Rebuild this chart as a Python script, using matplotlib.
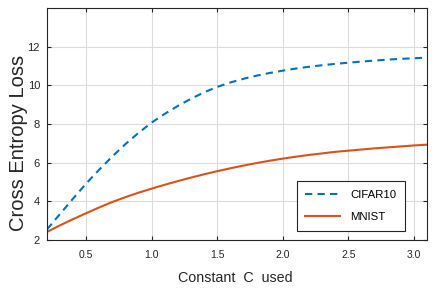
import matplotlib
matplotlib.use("Agg")
import matplotlib.pyplot as plt

c_vals = [0.2, 0.3, 0.4, 0.5, 0.6, 0.7, 0.8, 0.9, 1.0, 1.1, 1.2, 1.3, 1.4, 1.5, 1.6, 1.7, 1.8, 1.9, 2.0,
          2.1, 2.2, 2.3, 2.4, 2.5, 2.6, 2.7, 2.8, 2.9, 3.0, 3.1]
cifar10 = [2.55, 3.35, 4.15, 4.93, 5.65, 6.33, 6.97, 7.55, 8.08, 8.53, 8.94, 9.31, 9.64, 9.92, 10.15, 10.34,
           10.50, 10.64, 10.76, 10.87, 10.96, 11.04, 11.11, 11.17, 11.23, 11.28, 11.33, 11.37, 11.40, 11.43]
mnist = [2.42, 2.76, 3.08, 3.39, 3.69, 3.97, 4.22, 4.45, 4.66, 4.86, 5.05, 5.23, 5.40, 5.56, 5.71, 5.85,
         5.98, 6.10, 6.21, 6.31, 6.40, 6.48, 6.56, 6.62, 6.68, 6.74, 6.79, 6.84, 6.89, 6.93]

xticks = [0.5, 1.0, 1.5, 2.0, 2.5, 3.0]
yticks = [2, 4, 6, 8, 10, 12]

plt.rcParams['font.family'] = ['Liberation Sans', 'DejaVu Sans']

fig = plt.figure(figsize=(4.36, 2.88), dpi=100)
ax = fig.add_axes([47/436, 1-240/288, 380/436, 232/288])

ax.plot(c_vals, cifar10, color='#0072BD', lw=1.5, ls=(0, (3.5, 2.5)), label='CIFAR10')
ax.plot(c_vals, mnist, color='#D95319', lw=1.5, label='MNIST')

ax.set_xlim(0.2, 3.1)
ax.set_ylim(2, 14)
ax.set_xticks(xticks)
ax.set_xticklabels([f"{v:.1f}" for v in xticks], fontsize=7.5)
ax.set_yticks(yticks)
ax.set_yticklabels([str(v) for v in yticks], fontsize=8)
ax.grid(True, color='#dcdcdc', lw=0.8)
ax.set_axisbelow(True)
ax.tick_params(direction='in', top=True, right=True, colors='#262626', length=3, width=0.8)
ax.tick_params(axis='x', pad=7)
ax.tick_params(axis='y', pad=5)
for s in ax.spines.values():
    s.set_color('#262626')
    s.set_linewidth(0.8)

ax.set_xlabel('Constant  C  used', fontsize=10.3, color='#262626')
ax.set_ylabel('Cross Entropy Loss', fontsize=14.5, color='#262626')
ax.xaxis.set_label_coords(0.495, -0.135)
ax.yaxis.set_label_coords(-0.05, 0.418)

leg = ax.legend(loc='lower right', bbox_to_anchor=(405/436, 1-231/288), bbox_transform=fig.transFigure,
                fontsize=8.2, fancybox=False, edgecolor='#262626', framealpha=1,
                handlelength=3.0, borderpad=0.75, labelspacing=1.1, handletextpad=0.95, borderaxespad=0)
leg.get_frame().set_linewidth(0.8)

fig.savefig('out.png', dpi=100)
